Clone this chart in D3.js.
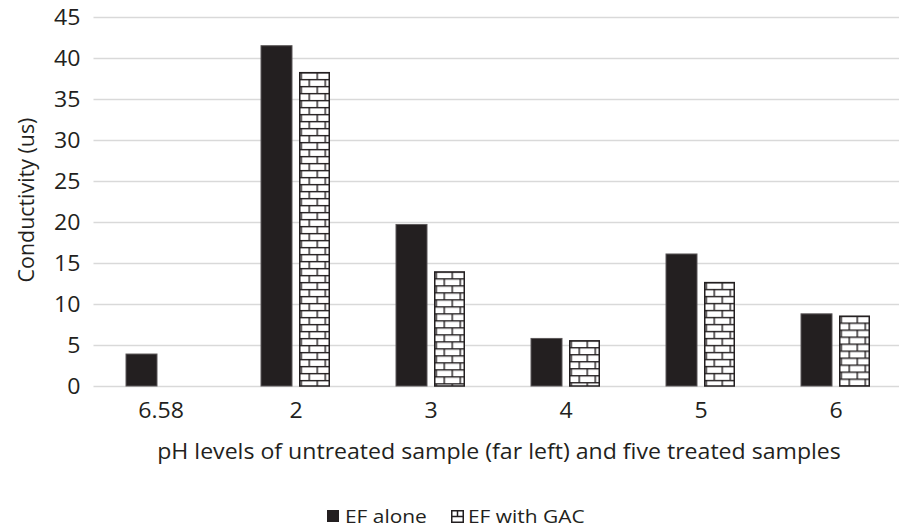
<!DOCTYPE html>
<html>
<head>
<meta charset="utf-8">
<script src="https://cdn.jsdelivr.net/npm/d3@7/dist/d3.min.js"></script>
<style>
  html, body { margin: 0; padding: 0; background: #fff; }
  svg { display: block; font-family: "Open Sans", "Noto Sans", sans-serif; }
</style>
</head>
<body>
<svg id="chart" width="899" height="530"></svg>
<script>
// ---- data ----
const categories = ["6.58", "2", "3", "4", "5", "6"];
const seriesNames = ["EF alone", "EF with GAC"];
const efAlone = [3.9, 41.5, 19.7, 5.8, 16.1, 8.8];
const efWithGAC = [null, 38.3, 14.0, 5.6, 12.7, 8.6];
const yTicks = [0, 5, 10, 15, 20, 25, 30, 35, 40, 45];
const xTitle = "pH levels of untreated sample (far left) and five treated samples";
const yTitle = "Conductivity (us)";

const ink = "#231f20";
const grid = "#d9d9d9";
const stretch = "scale(1.1,1)";

const svg = d3.select("#chart");
const W = 899, H = 530;

const plot = { left: 93.5, right: 903.5, top: 17, bottom: 386 };

const x = d3.scaleBand().domain(categories).range([plot.left, plot.right]).padding(0);
const y = d3.scaleLinear().domain([0, 45]).range([plot.bottom, plot.top]);
const x1 = d3.scaleBand().domain(seriesNames)
  .range([x.bandwidth() / 2 - 35, x.bandwidth() / 2 + 34])
  .paddingInner(7 / 38).paddingOuter(0);

const defs = svg.append("defs");
defs.append("clipPath").attr("id", "clip")
  .append("rect").attr("x", 0).attr("y", 0).attr("width", W).attr("height", H);

// gridlines via axis
const gGrid = svg.append("g").attr("transform", `translate(${plot.left},0)`);
gGrid.call(d3.axisLeft(y).tickValues(yTicks).tickSize(-(plot.right - plot.left)).tickFormat(""));
gGrid.select(".domain").remove();
gGrid.selectAll(".tick line").attr("stroke", grid).attr("stroke-width", 1.6);

// y tick labels
const gY = svg.append("g").attr("transform", `translate(80.5,0)`);
gY.call(d3.axisLeft(y).tickValues(yTicks).tickSize(0).tickPadding(0).tickFormat(d3.format("d")));
gY.select(".domain").remove();
gY.selectAll(".tick text").attr("fill", ink).attr("font-size", 21)
  .attr("font-family", '"Open Sans", sans-serif').attr("dy", "0.36em").attr("x", 0)
  .attr("transform", stretch);

// x tick labels
const gX = svg.append("g").attr("transform", `translate(0,${plot.bottom})`);
gX.call(d3.axisBottom(x).tickSize(0).tickPadding(0));
gX.select(".domain").remove();
gX.selectAll(".tick text").attr("fill", ink).attr("font-size", 21)
  .attr("font-family", '"Open Sans", sans-serif').attr("y", 32).attr("dy", 0)
  .attr("transform", stretch);

// bars
const rows = categories.map((c, i) => ({ cat: c, vals: [efAlone[i], efWithGAC[i]] }));
const gBars = svg.append("g").attr("clip-path", "url(#clip)");

rows.forEach((r, i) => {
  const gx = x(r.cat);
  if (r.vals[0] != null) {
    gBars.append("rect")
      .attr("x", gx + x1(seriesNames[0]))
      .attr("y", y(r.vals[0]))
      .attr("width", x1.bandwidth())
      .attr("height", y(0) - y(r.vals[0]))
      .attr("fill", ink)
      .attr("stroke", "#5b5758").attr("stroke-width", 1);
  }
  if (r.vals[1] != null) {
    const bx = gx + x1(seriesNames[1]);
    const by = y(r.vals[1]);
    const pid = "brick" + i;
    const p = defs.append("pattern").attr("id", pid)
      .attr("patternUnits", "userSpaceOnUse")
      .attr("x", bx + 1.5).attr("y", by).attr("width", 16).attr("height", 14);
    p.append("rect").attr("width", 16).attr("height", 14).attr("fill", "#fff");
    p.append("line").attr("x1", 0).attr("x2", 16).attr("y1", 0.7).attr("y2", 0.7).attr("stroke", ink).attr("stroke-width", 1.4);
    p.append("line").attr("x1", 0).attr("x2", 16).attr("y1", 7.7).attr("y2", 7.7).attr("stroke", ink).attr("stroke-width", 1.4);
    p.append("line").attr("x1", 0.7).attr("x2", 0.7).attr("y1", 0).attr("y2", 7).attr("stroke", ink).attr("stroke-width", 1.4);
    p.append("line").attr("x1", 8.7).attr("x2", 8.7).attr("y1", 7).attr("y2", 14).attr("stroke", ink).attr("stroke-width", 1.4);
    gBars.append("rect")
      .attr("x", bx + 0.75)
      .attr("y", by + 0.75)
      .attr("width", x1.bandwidth() - 1.5)
      .attr("height", y(0) - by - 0.75)
      .attr("fill", `url(#${pid})`)
      .attr("stroke", ink).attr("stroke-width", 1.5);
  }
});

// axis titles
svg.append("g")
  .attr("transform", `translate(499,459) ${stretch}`)
  .append("text")
  .attr("text-anchor", "middle")
  .attr("font-size", 21)
  .attr("fill", ink)
  .text(xTitle);

svg.append("text")
  .attr("transform", `translate(34,200) rotate(-90)`)
  .attr("text-anchor", "middle")
  .attr("font-size", 21.4)
  .attr("fill", ink)
  .text(yTitle);

// legend
const leg = svg.append("g");
leg.append("rect").attr("x", 327).attr("y", 510).attr("width", 12).attr("height", 12).attr("fill", ink);
leg.append("g").attr("transform", `translate(345,523) ${stretch}`)
  .append("text").attr("font-size", 19).attr("fill", ink).text(seriesNames[0]);
const lg = leg.append("g").attr("transform", "translate(451,510)");
lg.append("rect").attr("x", 0.75).attr("y", 0.75).attr("width", 11.5).attr("height", 11.5).attr("fill", "#fff").attr("stroke", ink).attr("stroke-width", 1.5);
lg.append("line").attr("x1", 0).attr("x2", 13).attr("y1", 6.5).attr("y2", 6.5).attr("stroke", ink).attr("stroke-width", 1.5);
lg.append("line").attr("x1", 6.5).attr("x2", 6.5).attr("y1", 0).attr("y2", 6.5).attr("stroke", ink).attr("stroke-width", 1.5);
leg.append("g").attr("transform", `translate(468,523) ${stretch}`)
  .append("text").attr("font-size", 19).attr("fill", ink).text(seriesNames[1]);
</script>
</body>
</html>
